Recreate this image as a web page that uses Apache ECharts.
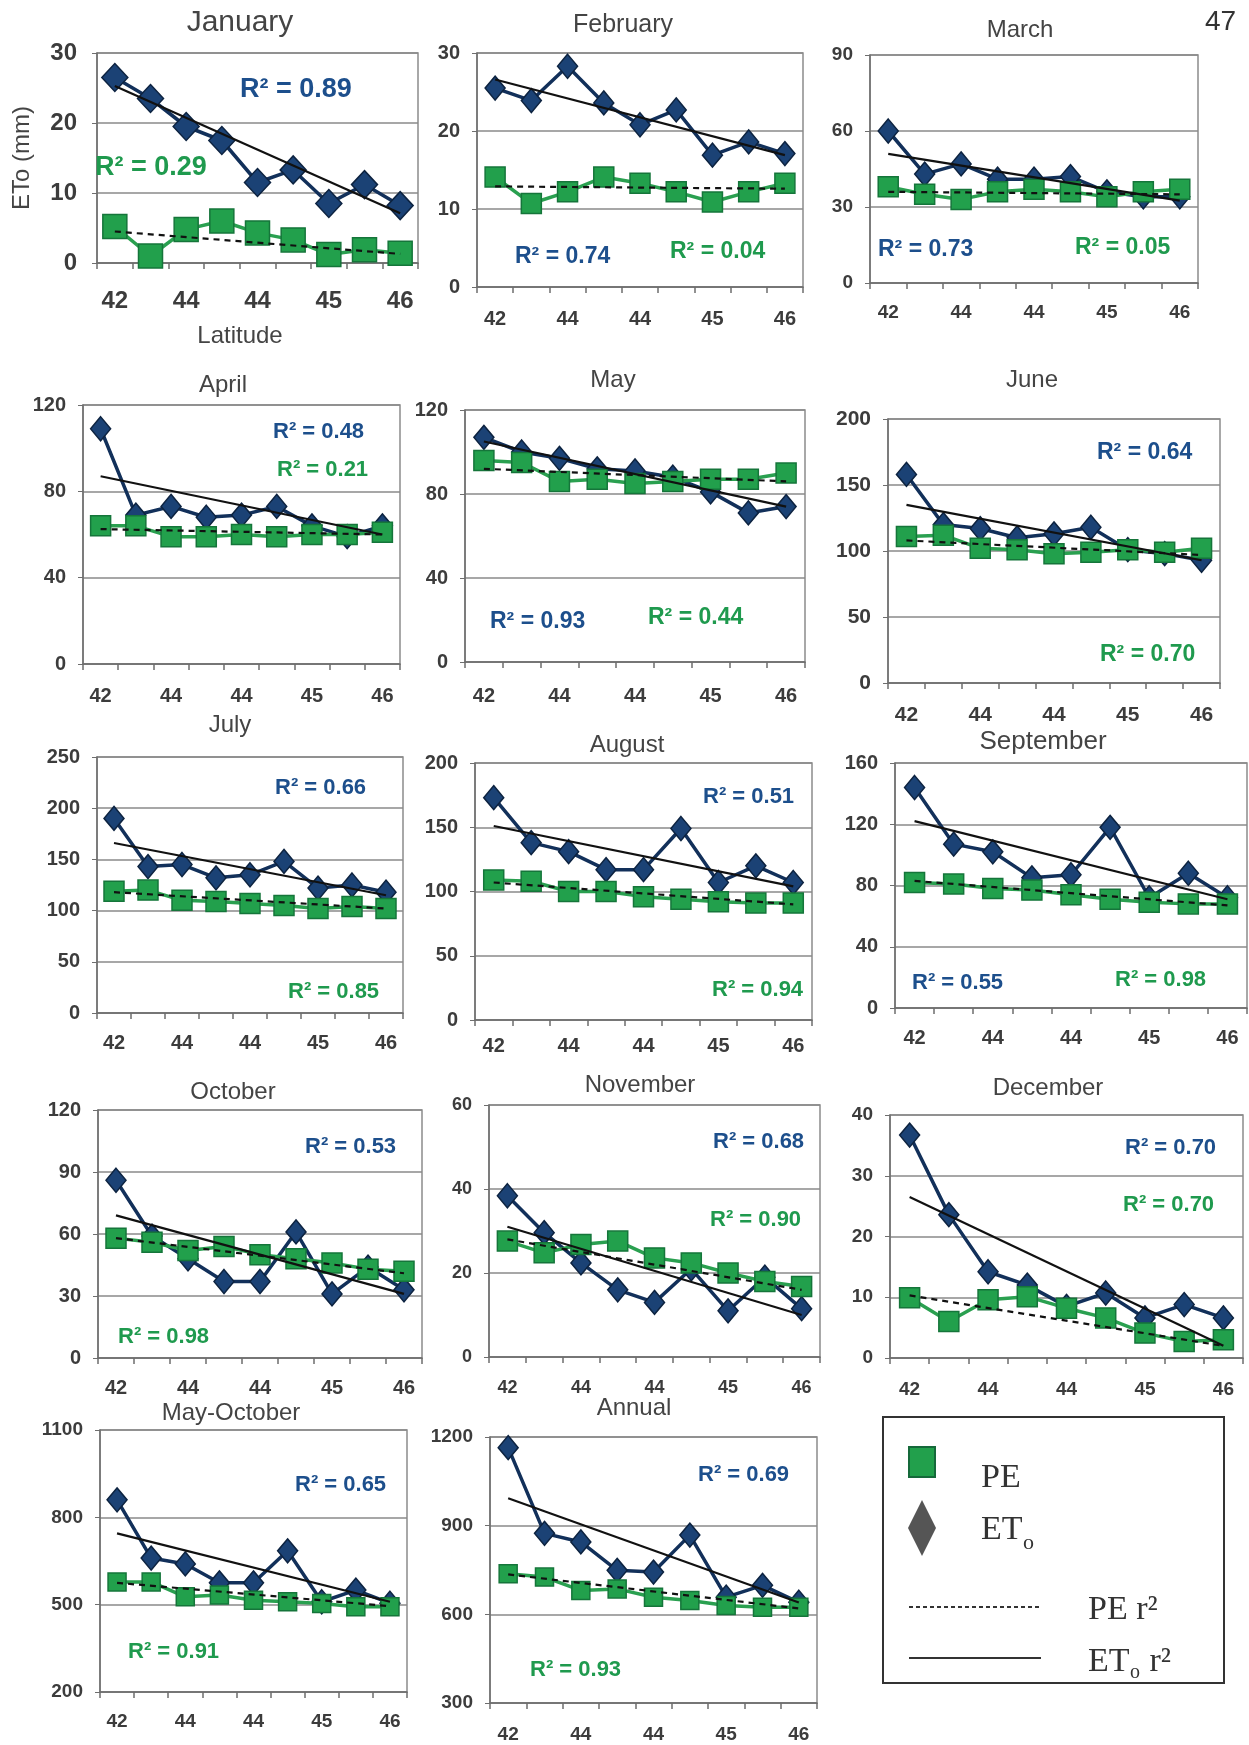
<!DOCTYPE html>
<html><head><meta charset="utf-8">
<script src="https://cdn.jsdelivr.net/npm/echarts@6/dist/echarts.min.js"></script>
<style>html,body{margin:0;padding:0;background:#fff}#c{width:1249px;height:1745px}</style>
</head><body><div id="c"></div>
<script>
// ---- categories (latitude) ----
const LAT = ['42','43','44','44','44','44','45','45','46'];

// ---- data: ETo (diamonds) and PE (squares), trend endpoints [first, last] ----
const jan_et = [26.5, 23.5, 19.5, 17.5, 11.5, 13.3, 8.5, 11.2, 8.2];
const jan_pe = [5.2, 1.0, 4.8, 6.0, 4.3, 3.3, 1.2, 1.9, 1.4];
const jan_etTrend = [25.3, 7.1];
const jan_peTrend = [4.5, 1.3];

const feb_et = [25.5, 23.9, 28.3, 23.6, 20.8, 22.7, 16.9, 18.6, 17.1];
const feb_pe = [14.1, 10.7, 12.2, 14.1, 13.3, 12.2, 10.9, 12.2, 13.3];
const feb_etTrend = [26.6, 16.9];
const feb_peTrend = [12.9, 12.6];

const mar_et = [60, 43, 47, 41, 41, 42, 36, 34, 34];
const mar_pe = [38, 35, 33, 36, 37, 36, 34, 36, 37];
const mar_etTrend = [51, 32.5];
const mar_peTrend = [36, 35];

const apr_et = [109, 69, 73, 68, 69, 73, 64, 59, 64];
const apr_pe = [64, 64, 59, 59, 60, 59, 60, 60, 61];
const apr_etTrend = [87, 60];
const apr_peTrend = [62.5, 60];

const may_et = [107, 100, 97, 92, 91, 88, 81, 71, 74];
const may_pe = [96, 95, 86, 87, 85, 86, 87, 87, 90];
const may_etTrend = [105, 74];
const may_peTrend = [92, 86];

const jun_et = [158, 120, 117, 110, 113, 118, 101, 98, 93];
const jun_pe = [111, 112, 102, 101, 98, 99, 101, 99, 102];
const jun_etTrend = [135, 93];
const jun_peTrend = [108, 97];

const jul_et = [190, 143, 145, 132, 135, 148, 122, 125, 118];
const jul_pe = [119, 120, 110, 109, 107, 105, 102, 104, 102];
const jul_etTrend = [166, 115];
const jul_peTrend = [118, 102];

const aug_et = [173, 138, 131, 117, 117, 149, 107, 120, 107];
const aug_pe = [109, 108, 100, 100, 96, 94, 92, 91, 91];
const aug_etTrend = [151, 104];
const aug_peTrend = [107, 90];

const sep_et = [144, 107, 102, 85, 87, 118, 72, 88, 72];
const sep_pe = [82, 81, 78, 77, 74, 71, 69, 68, 68];
const sep_etTrend = [122, 71];
const sep_peTrend = [83, 67];

const oct_et = [86, 59, 48, 37, 37, 61, 31, 44, 33];
const oct_pe = [58, 56, 52, 54, 50, 48, 46, 43, 42];
const oct_etTrend = [69, 31];
const oct_peTrend = [58, 41];

const nov_et = [38.4, 29.6, 22.4, 16, 13, 21, 11, 19, 11.5];
const nov_pe = [27.6, 24.8, 26.8, 27.6, 23.6, 22.4, 20, 18, 16.8];
const nov_etTrend = [31, 10];
const nov_peTrend = [28, 16];

const dec_et = [36.7, 23.6, 14.2, 12, 8.5, 10.7, 6.6, 8.8, 6.6];
const dec_pe = [9.9, 6, 9.6, 10.1, 8.2, 6.6, 4.1, 2.7, 3];
const dec_etTrend = [26.5, 2];
const dec_peTrend = [10.3, 2];

const mayoct_et = [860, 660, 640, 575, 575, 685, 510, 550, 505];
const mayoct_pe = [578, 578, 527, 533, 515, 510, 504, 493, 493];
const mayoct_etTrend = [745, 510];
const mayoct_peTrend = [575, 495];

const annual_et = [1164, 874, 845, 749, 743, 868, 658, 698, 641];
const annual_pe = [737, 726, 681, 686, 658, 647, 630, 624, 624];
const annual_etTrend = [993, 640];
const annual_peTrend = [735, 620];

// ---- titles, R² texts, y-axis scales [min, max, step] ----
const TITLES = ['January','February','March','April','May','June','July','August','September','October','November','December','May-October','Annual'];
const R2_ET = ['0.89','0.74','0.73','0.48','0.93','0.64','0.66','0.51','0.55','0.53','0.68','0.70','0.65','0.69'];
const R2_PE = ['0.29','0.04','0.05','0.21','0.44','0.70','0.85','0.94','0.98','0.98','0.90','0.70','0.91','0.93'];
const Y_SCALES = [[0,30,10],[0,30,10],[0,90,30],[0,120,40],[0,120,40],[0,200,50],[0,250,50],[0,200,50],[0,160,40],[0,120,30],[0,60,20],[0,40,10],[200,1100,300],[300,1200,300]];

const ET = [jan_et,feb_et,mar_et,apr_et,may_et,jun_et,jul_et,aug_et,sep_et,oct_et,nov_et,dec_et,mayoct_et,annual_et];
const PE = [jan_pe,feb_pe,mar_pe,apr_pe,may_pe,jun_pe,jul_pe,aug_pe,sep_pe,oct_pe,nov_pe,dec_pe,mayoct_pe,annual_pe];
const ET_T = [jan_etTrend,feb_etTrend,mar_etTrend,apr_etTrend,may_etTrend,jun_etTrend,jul_etTrend,aug_etTrend,sep_etTrend,oct_etTrend,nov_etTrend,dec_etTrend,mayoct_etTrend,annual_etTrend];
const PE_T = [jan_peTrend,feb_peTrend,mar_peTrend,apr_peTrend,may_peTrend,jun_peTrend,jul_peTrend,aug_peTrend,sep_peTrend,oct_peTrend,nov_peTrend,dec_peTrend,mayoct_peTrend,annual_peTrend];

// ---- layout (pixels) ----
const LAYOUT = [
 {g:[97,53,418,263],   t:[240,23],  tfs:30, xm:26, fs:24, e:[240,90],   p:[95,168],   rfs:27, big:true},
 {g:[477,53,803,287],  t:[623,25],  tfs:25, xm:22, fs:20, e:[515,257],  p:[670,252],  rfs:23},
 {g:[870,55,1198,283], t:[1020,30], tfs:24, xm:20, fs:19, e:[878,250],  p:[1075,248], rfs:23},
 {g:[83,405,400,664],  t:[223,385], tfs:24, xm:22, fs:20, e:[273,432],  p:[277,470],  rfs:22},
 {g:[465,410,805,662], t:[613,380], tfs:24, xm:24, fs:20, e:[490,622],  p:[648,618],  rfs:23},
 {g:[888,419,1220,683],t:[1032,380],tfs:24, xm:22, fs:21, e:[1097,453], p:[1100,655], rfs:23},
 {g:[97,757,403,1013], t:[230,725], tfs:24, xm:20, fs:20, e:[275,788],  p:[288,992],  rfs:22},
 {g:[475,763,812,1020],t:[627,745], tfs:24, xm:16, fs:20, e:[703,797],  p:[712,990],  rfs:22},
 {g:[895,763,1247,1008],t:[1043,742],tfs:26, xm:20, fs:20, e:[912,983], p:[1115,980], rfs:22},
 {g:[98,1110,422,1358],t:[233,1092],tfs:24, xm:20, fs:20, e:[305,1147], p:[118,1337], rfs:22},
 {g:[489,1105,820,1357],t:[640,1085],tfs:24, xm:22, fs:18, e:[713,1142],p:[710,1220], rfs:22},
 {g:[890,1115,1243,1358],t:[1048,1088],tfs:24,xm:22, fs:19, e:[1125,1148],p:[1123,1205],rfs:22},
 {g:[100,1430,407,1692],t:[231,1413],tfs:24, xm:20, fs:19, e:[295,1485], p:[128,1652], rfs:22},
 {g:[490,1437,817,1703],t:[634,1408],tfs:24, xm:22, fs:19, e:[698,1475], p:[530,1670], rfs:22}
];

const ET_COLOR = '#1d4f8c', PE_COLOR = '#1f9a4e';
const grids = [], xAxes = [], yAxes = [], series = [], graphics = [];

LAYOUT.forEach((L, i) => {
  const [x0, y0, x1, y1] = L.g;
  grids.push({left: x0, top: y0, width: x1 - x0, height: y1 - y0, show: true,
    borderColor: '#8c8c8c', borderWidth: 1.5, backgroundColor: '#fff'});
  xAxes.push({gridIndex: i, type: 'category', data: LAT, boundaryGap: true,
    axisLine: {lineStyle: {color: '#6e6e6e', width: 1.5}},
    axisTick: {show: true, interval: 0, length: 6, lineStyle: {color: '#6e6e6e', width: 1.5}},
    axisLabel: {interval: 1, margin: L.xm, fontSize: L.fs, color: '#3c3c3c', fontWeight: 'bold', fontFamily: 'Liberation Sans'},
    splitLine: {show: false}});
  const ys = Y_SCALES[i];
  yAxes.push({gridIndex: i, type: 'value', min: ys[0], max: ys[1], interval: ys[2],
    axisLine: {show: true, lineStyle: {color: '#6e6e6e', width: 1.5}},
    axisTick: {show: true, length: 5, lineStyle: {color: '#6e6e6e'}},
    axisLabel: {margin: L.big ? 20 : 17, fontSize: L.fs, color: '#3c3c3c', fontWeight: 'bold', fontFamily: 'Liberation Sans',
      formatter: v => String(v)},
    splitLine: {show: true, lineStyle: {color: '#8a8a8a', width: 1.5}}});
  const dS = L.big ? [26, 28] : [20, 24];
  const sS = L.big ? 24 : (i >= 12 ? 18 : 20);
  series.push({type: 'line', xAxisIndex: i, yAxisIndex: i, data: ET[i], symbol: 'diamond', symbolSize: dS, showAllSymbol: true,
    lineStyle: {color: '#12305a', width: 3.5}, itemStyle: {color: '#1b4275', borderColor: '#0d2340', borderWidth: 1.5},
    z: 3, animation: false});
  series.push({type: 'line', xAxisIndex: i, yAxisIndex: i, data: PE[i], symbol: 'rect', symbolSize: sS, showAllSymbol: true,
    lineStyle: {color: '#2aa050', width: 3.5}, itemStyle: {color: '#22a04c', borderColor: '#15753a', borderWidth: 1.5},
    z: 4, animation: false});
  series.push({type: 'line', xAxisIndex: i, yAxisIndex: i, data: [[0, ET_T[i][0]], [LAT.length - 1, ET_T[i][1]]],
    symbol: 'none', lineStyle: {color: '#111', width: 2.2}, z: 5, animation: false});
  series.push({type: 'line', xAxisIndex: i, yAxisIndex: i, data: [[0, PE_T[i][0]], [LAT.length - 1, PE_T[i][1]]],
    symbol: 'none', lineStyle: {color: '#111', width: 2.2, type: [6, 5]}, z: 5, animation: false});

  graphics.push({type: 'text', x: L.t[0], y: L.t[1], z: 50,
    style: {text: TITLES[i], fill: '#444', font: L.tfs + 'px "Liberation Sans"', textAlign: 'center', textVerticalAlign: 'middle'}});
  graphics.push({type: 'text', x: L.e[0], y: L.e[1], z: 50,
    style: {text: 'R² = ' + R2_ET[i], fill: ET_COLOR, font: 'bold ' + L.rfs + 'px "Liberation Sans"', textAlign: 'left', textVerticalAlign: 'middle'}});
  graphics.push({type: 'text', x: L.p[0], y: L.p[1], z: 50,
    style: {text: 'R² = ' + R2_PE[i], fill: PE_COLOR, font: 'bold ' + L.rfs + 'px "Liberation Sans"', textAlign: 'left', textVerticalAlign: 'middle'}});
});

// axis names for January and page number
graphics.push({type: 'text', x: 22, y: 158, rotation: Math.PI / 2, z: 50,
  style: {text: 'ETo (mm)', fill: '#444', font: '24px "Liberation Sans"', textAlign: 'center', textVerticalAlign: 'middle'}});
graphics.push({type: 'text', x: 240, y: 336, z: 50,
  style: {text: 'Latitude', fill: '#444', font: '24px "Liberation Sans"', textAlign: 'center', textVerticalAlign: 'middle'}});
graphics.push({type: 'text', x: 1205, y: 22, z: 50,
  style: {text: '47', fill: '#333', font: '28px "Liberation Sans"', textAlign: 'left', textVerticalAlign: 'middle'}});

// legend box
const serif = '"Liberation Serif"';
graphics.push({type: 'rect', shape: {x: 883, y: 1417, width: 341, height: 266}, z: 50,
  style: {fill: 'none', stroke: '#333', lineWidth: 2}});
graphics.push({type: 'rect', shape: {x: 909, y: 1447, width: 26, height: 30}, z: 50,
  style: {fill: '#22a04c', stroke: '#15693a', lineWidth: 2}});
graphics.push({type: 'polygon', shape: {points: [[922, 1500], [936, 1528], [922, 1556], [908, 1528]]}, z: 50,
  style: {fill: '#555'}});
graphics.push({type: 'line', shape: {x1: 909, y1: 1607, x2: 1041, y2: 1607}, z: 50,
  style: {stroke: '#333', lineWidth: 2, lineDash: [4, 3]}});
graphics.push({type: 'line', shape: {x1: 909, y1: 1658, x2: 1041, y2: 1658}, z: 50,
  style: {stroke: '#333', lineWidth: 2}});
graphics.push({type: 'text', x: 981, y: 1478, z: 50, style: {text: 'PE', fill: '#333', font: '34px ' + serif, textVerticalAlign: 'middle'}});
graphics.push({type: 'text', x: 981, y: 1530, z: 50, style: {text: 'ET', fill: '#333', font: '34px ' + serif, textVerticalAlign: 'middle'}});
graphics.push({type: 'text', x: 1023, y: 1543, z: 50, style: {text: 'o', fill: '#333', font: '22px ' + serif, textVerticalAlign: 'middle'}});
graphics.push({type: 'text', x: 1088, y: 1610, z: 50, style: {text: 'PE r²', fill: '#333', font: '34px ' + serif, textVerticalAlign: 'middle'}});
graphics.push({type: 'text', x: 1088, y: 1662, z: 50, style: {text: 'ET', fill: '#333', font: '34px ' + serif, textVerticalAlign: 'middle'}});
graphics.push({type: 'text', x: 1130, y: 1673, z: 50, style: {text: 'o', fill: '#333', font: '20px ' + serif, textVerticalAlign: 'middle'}});
graphics.push({type: 'text', x: 1141, y: 1662, z: 50, style: {text: ' r²', fill: '#333', font: '34px ' + serif, textVerticalAlign: 'middle'}});

const chart = echarts.init(document.getElementById('c'));
chart.setOption({
  backgroundColor: '#fff',
  animation: false,
  grid: grids, xAxis: xAxes, yAxis: yAxes, series: series, graphic: graphics
});
</script>
</body></html>
